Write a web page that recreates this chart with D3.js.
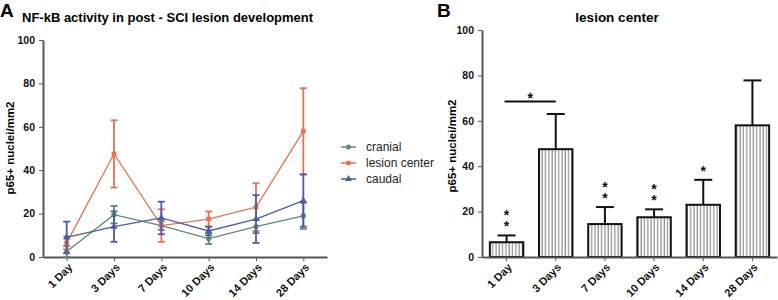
<!DOCTYPE html>
<html>
<head>
<meta charset="utf-8">
<script src="https://cdn.jsdelivr.net/npm/d3@7"></script>
<style>
  body { margin: 0; background: #fff; }
  svg { font-family: "Liberation Sans", Arial, sans-serif; }
  .axis path, .axis line { stroke: #555; }
  .axis text { font-weight: bold; font-size: 10.5px; fill: #111; }
  .xlab text { font-size: 11px; }
</style>
</head>
<body>
<div id="chart"></div>
<script>
// categories + values
var days = ["1 Day", "3 Days", "7 Days", "10 Days", "14 Days", "28 Days"];
var yTicks = [0, 20, 40, 60, 80, 100];

var cranial = [2.5, 19.5, 14.5, 8.5, 14, 19];
var cranialErr = [2.5, 4, 2, 2.5, 3, 6];
var lesion = [6.5, 47.5, 14.5, 17.5, 23, 58];
var lesionErr = [3, 15.5, 7.5, 3.5, 11, 19.8];
var caudal = [9, 14, 18, 12, 17.5, 26];
var caudalErr = [7.3, 7, 7.5, 2, 11, 12];

var seriesNames = ["cranial", "lesion center", "caudal"];
var seriesColors = ["#5e8a6c", "#e8714f", "#4b5ba8"];
var stars = ["**", "", "**", "**", "*", ""];

var width = 778, height = 300;

var svg = d3.select("#chart")
            .append("svg")
            .attr("width", width)
            .attr("height", height);

// stripe pattern for the bars
var pat = svg.append("defs").append("pattern")
    .attr("id", "stripes")
    .attr("patternUnits", "userSpaceOnUse")
    .attr("width", 3.3).attr("height", 10);
pat.append("rect").attr("width", 3.3).attr("height", 10).attr("fill", "#fff");
pat.append("line").attr("x1", 1).attr("x2", 1).attr("y1", 0).attr("y2", 10)
   .attr("stroke", "#777").attr("stroke-width", 1);

function drawAxes(g, x, y, xr, yBase) {
    var yAxis = g.append("g").attr("class", "axis")
        .attr("transform", "translate(" + xr[0] + ",0)")
        .call(d3.axisLeft(y).tickValues(yTicks).tickSize(4).tickSizeOuter(0));
    var xAxis = g.append("g").attr("class", "axis xlab")
        .attr("transform", "translate(0," + yBase + ")")
        .call(d3.axisBottom(x).tickSize(4).tickSizeOuter(0));
    yAxis.select(".domain").attr("stroke-width", 2);
    xAxis.select(".domain").attr("stroke-width", 2);
    yAxis.selectAll("text").attr("dx", "-1");
    xAxis.selectAll("text")
        .attr("text-anchor", "end")
        .attr("dy", null)
        .attr("y", 0)
        .attr("transform", "translate(6,11) rotate(-45)");
}

/* ---------- Panel A ---------- */
var xA = d3.scalePoint().domain(days).range([43, 327]).padding(0.5);
var yA = d3.scaleLinear().domain([0, 100]).range([257, 40]);
var gA = svg.append("g");
drawAxes(gA, xA, yA, [43, 327], 257);

svg.append("text").attr("x", 0).attr("y", 17)
   .attr("font-size", 19).attr("font-weight", "bold").text("A");
svg.append("text").attr("x", 22).attr("y", 22)
   .attr("font-size", 13).attr("font-weight", "bold")
   .text("NF-kB activity in post - SCI lesion development");
svg.append("text")
   .attr("transform", "translate(14,148) rotate(-90)")
   .attr("text-anchor", "middle").attr("font-size", 11.5).attr("font-weight", "bold")
   .text("p65+ nuclei/mm2");

var series = [
    {vals: cranial, err: cranialErr},
    {vals: lesion, err: lesionErr},
    {vals: caudal, err: caudalErr}
];
var symbols = [d3.symbolCircle, d3.symbolSquare, d3.symbolTriangle];

var line = d3.line().x(function(d, i) { return xA(days[i]); }).y(function(d) { return yA(d); });

series.forEach(function(s, k) {
    var col = seriesColors[k];
    var g = gA.append("g");
    g.append("path").datum(s.vals).attr("d", line)
        .attr("fill", "none").attr("stroke", col).attr("stroke-width", 1.3);
    s.vals.forEach(function(v, i) {
        var cx = xA(days[i]);
        var lo = yA(Math.max(0, v - s.err[i])), hi = yA(v + s.err[i]);
        g.append("line").attr("x1", cx).attr("x2", cx).attr("y1", lo).attr("y2", hi)
            .attr("stroke", col).attr("stroke-width", 1.8);
        [lo, hi].forEach(function(yy) {
            g.append("line").attr("x1", cx - 3.5).attr("x2", cx + 3.5).attr("y1", yy).attr("y2", yy)
                .attr("stroke", col).attr("stroke-width", 1.8);
        });
        g.append("path").attr("d", d3.symbol().type(symbols[k]).size(22)())
            .attr("transform", "translate(" + cx + "," + yA(v) + ")")
            .attr("fill", col);
    });
});

// legend
var leg = gA.append("g").attr("transform", "translate(341,147)");
seriesNames.forEach(function(n, k) {
    var r = leg.append("g").attr("transform", "translate(0," + (k * 16) + ")");
    r.append("line").attr("x1", 0).attr("x2", 15).attr("stroke", seriesColors[k]).attr("stroke-width", 1.5);
    r.append("path").attr("d", d3.symbol().type(symbols[k]).size(20)())
        .attr("transform", "translate(7.5,0)").attr("fill", seriesColors[k]);
    r.append("text").attr("x", 25).attr("y", 4).attr("font-size", 12).attr("fill", "#222").text(n);
});

/* ---------- Panel B ---------- */
var xB = d3.scaleBand().domain(days).range([482, 777]).paddingInner(0.32).paddingOuter(0.16);
var yB = d3.scaleLinear().domain([0, 100]).range([257, 30]);
var gB = svg.append("g");

svg.append("text").attr("x", 437).attr("y", 17)
   .attr("font-size", 19).attr("font-weight", "bold").text("B");
svg.append("text").attr("x", 617).attr("y", 22).attr("text-anchor", "middle")
   .attr("font-size", 13.5).attr("font-weight", "bold").text("lesion center");
svg.append("text")
   .attr("transform", "translate(456,146) rotate(-90)")
   .attr("text-anchor", "middle").attr("font-size", 11.5).attr("font-weight", "bold")
   .text("p65+ nuclei/mm2");

var bw = xB.bandwidth();
// error bars (upper only)
lesion.forEach(function(v, i) {
    var cx = xB(days[i]) + bw / 2, top = yB(v + lesionErr[i]);
    gB.append("line").attr("x1", cx).attr("x2", cx).attr("y1", yB(v)).attr("y2", top)
        .attr("stroke", "#111").attr("stroke-width", 2);
    gB.append("line").attr("x1", cx - 9).attr("x2", cx + 9).attr("y1", top).attr("y2", top)
        .attr("stroke", "#111").attr("stroke-width", 2);
    if (stars[i]) {
        // stacked stars as one text element
        var n = stars[i].length;
        var t = gB.append("text").attr("text-anchor", "middle").attr("font-size", 14)
            .attr("font-weight", "bold").attr("fill", "#111");
        for (var j = 0; j < n; j++) {
            t.append("tspan").attr("x", cx)
                .attr("y", top + 7 - (n - j) * 11)
                .text("*");
        }
    }
});

gB.selectAll("rect.bar").data(lesion).enter().append("rect")
    .attr("class", "bar")
    .attr("x", function(d, i) { return xB(days[i]); })
    .attr("y", function(d) { return yB(d); })
    .attr("width", bw)
    .attr("height", function(d) { return yB(0) - yB(d); })
    .attr("fill", "url(#stripes)")
    .attr("stroke", "#111").attr("stroke-width", 2);

drawAxes(gB, xB, yB, [482, 777], 257);

// significance bracket 1 Day vs 3 Days
var sx1 = xB(days[0]) + bw / 2 - 2, sx2 = xB(days[1]) + bw / 2;
gB.append("line").attr("x1", sx1).attr("x2", sx2).attr("y1", yB(68.5)).attr("y2", yB(68.5))
    .attr("stroke", "#111").attr("stroke-width", 2);
gB.append("text").attr("x", (sx1 + sx2) / 2).attr("y", yB(68.5) + 1)
    .attr("text-anchor", "middle").attr("font-size", 14).attr("font-weight", "bold").text("*");
</script>
</body>
</html>
